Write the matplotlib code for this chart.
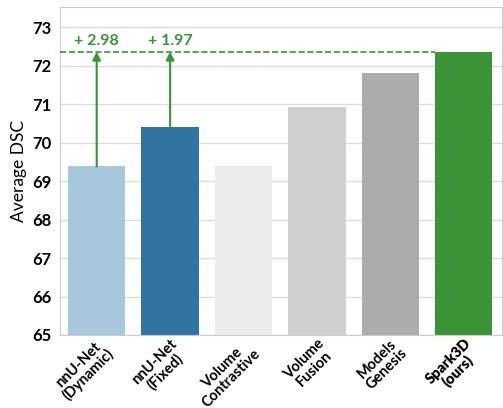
import matplotlib
matplotlib.use("Agg")
import matplotlib.pyplot as plt

plt.rcParams['font.family'] = ['Lato', 'DejaVu Sans']

labels = ["nnU-Net\n(Dynamic)", "nnU-Net\n(Fixed)", "Volume\nContrastive",
          "Volume\nFusion", "Models\nGenesis", "Spark3D\n(ours)"]
scores = [69.38, 70.39, 69.40, 70.92, 71.80, 72.36]
colors = ["#a7c8dc", "#3274a1", "#ebebeb", "#d0d0d0", "#acacac", "#3a9337"]
gains = ["+ 2.98", "+ 1.97"]

fig = plt.figure(figsize=(5.03, 4.08), dpi=100)
ax = fig.add_axes([60/503, 1 - 335/408, 442/503, 328/408])
x = range(len(scores))
ax.bar(x, scores, width=0.78, color=colors, zorder=2)
ax.set_ylim(65, 73.52)
ax.set_xlim(-0.5, 5.52)
ax.set_yticks(range(65, 74))
ax.yaxis.grid(True, color="#dddddd", lw=1, zorder=0)
for s in ax.spines.values():
    s.set_color("#cccccc")
ax.tick_params(axis="y", length=0, labelsize=12, pad=6)
ax.tick_params(axis="x", length=0, pad=1)
for t in ax.get_yticklabels():
    t.set_fontweight("bold")
ax.set_xticks(list(x))
ax.set_xticklabels(labels, rotation=45, ha="right", rotation_mode="anchor",
                   fontweight="bold", fontsize=10.5, linespacing=1.0,
                   multialignment="center")
ax.get_xticklabels()[-1].set_fontweight("heavy")
ax.set_ylabel("Average DSC", fontsize=12.5, labelpad=4)

best = scores[-1]
ax.plot([-0.5, 5 - 0.39], [best, best], ls="--", color="#3a9337", lw=1.2, zorder=3)
for i, g in enumerate(gains):
    ax.annotate("", xy=(i, best), xytext=(i, scores[i]),
                arrowprops=dict(arrowstyle="-|>", color="#3a9337", lw=1.5,
                                mutation_scale=12, shrinkA=0, shrinkB=0), zorder=4)
    ax.text(i, best + 0.1, g, ha="center", va="bottom", color="#3a9337",
            fontsize=11.5, fontweight="bold")

fig.savefig("out.png", dpi=100)
